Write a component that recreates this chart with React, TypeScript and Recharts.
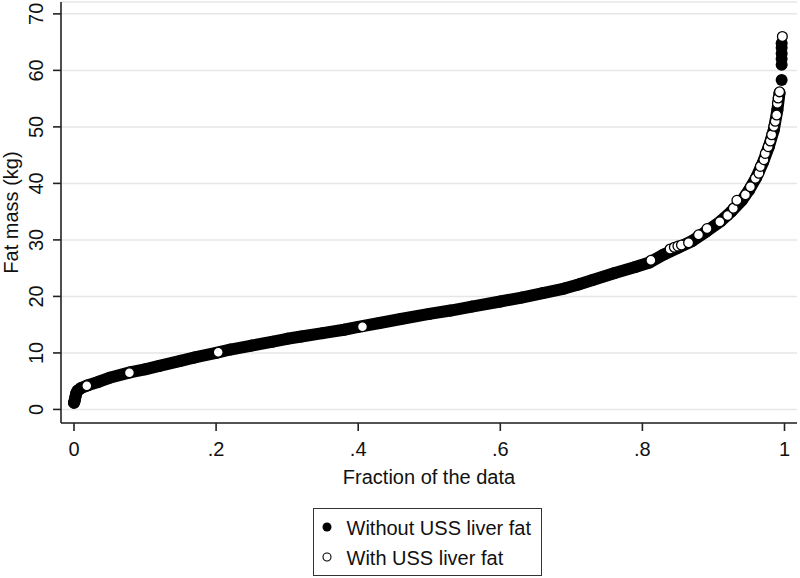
import { CartesianGrid, Scatter, ScatterChart, XAxis, YAxis } from "recharts"

// quantile curve, without USS liver fat (dense part, drawn as a band)
const fracWithout = [
  0.0, 0.001, 0.002, 0.003, 0.005, 0.01, 0.02, 0.035, 0.05, 0.08, 0.1, 0.12,
  0.15, 0.17, 0.2, 0.22, 0.25, 0.28, 0.3, 0.32, 0.35, 0.38, 0.4, 0.43, 0.46,
  0.5, 0.53, 0.56, 0.6, 0.63, 0.66, 0.69, 0.71, 0.73, 0.76, 0.79, 0.81, 0.83,
  0.85, 0.87, 0.89, 0.91, 0.925, 0.94, 0.95, 0.96, 0.97, 0.978, 0.985, 0.99,
  0.993,
]
const fatWithout = [
  1.2, 1.6, 2.2, 2.8, 3.3, 3.8, 4.3, 4.9, 5.6, 6.6, 7.1, 7.7, 8.6, 9.2, 10.0,
  10.6, 11.3, 12.0, 12.5, 12.9, 13.5, 14.1, 14.6, 15.3, 16.0, 16.9, 17.5,
  18.2, 19.1, 19.8, 20.6, 21.4, 22.1, 22.9, 24.1, 25.2, 26.0, 27.4, 28.6,
  29.8, 31.5, 33.3, 35.0, 37.0, 38.8, 41.0, 43.8, 46.5, 49.5, 53.0, 56.0,
]

// the few largest values, drawn as separate dots
const fracWithoutTop = [0.996, 0.996, 0.996, 0.996, 0.996, 0.996]
const fatWithoutTop = [58.3, 61.0, 62.0, 63.0, 64.0, 64.8]

// with USS liver fat
const fracWith = [
  0.018, 0.078, 0.203, 0.406, 0.812, 0.839, 0.845, 0.85, 0.855, 0.865, 0.879,
  0.891, 0.909, 0.92, 0.928, 0.933, 0.945, 0.952, 0.959, 0.964, 0.966, 0.971,
  0.973, 0.977, 0.98, 0.982, 0.985, 0.987, 0.989, 0.99, 0.991, 0.993, 0.997,
]
const fatWith = [
  4.2, 6.5, 10.1, 14.65, 26.4, 28.4, 28.7, 28.9, 29.1, 29.5, 30.9, 32.0, 33.2,
  34.3, 35.6, 37.0, 38.0, 39.4, 40.9, 41.8, 43.0, 44.2, 45.3, 46.5, 47.5, 48.6,
  50.1, 51.0, 52.1, 54.2, 55.1, 56.2, 66.0,
]

const xTicks = [0, 0.2, 0.4, 0.6, 0.8, 1]
const yTicks = [0, 10, 20, 30, 40, 50, 60, 70]

const toPoints = (xs: number[], ys: number[]) =>
  xs.map((x, i) => ({ x, y: ys[i] }))

const FONT = '"Liberation Sans", Arial, sans-serif'
const AXIS = "#222"

const FilledDot = (props: any) => (
  <circle cx={props.cx} cy={props.cy} r={6} fill="#000" />
)

const OpenDot = (props: any) => (
  <circle cx={props.cx} cy={props.cy} r={4.9} fill="#fff" stroke="#000" strokeWidth={1.3} />
)

const YTick = ({ x, y, payload }: any) => (
  <text
    transform={`translate(${x},${y}) rotate(-90)`}
    textAnchor="middle"
    fontSize={20}
    fill="#111"
  >
    {payload.value}
  </text>
)

const YLabel = ({ viewBox }: any) => (
  <text
    transform={`translate(18,${viewBox.y + viewBox.height / 2}) rotate(-90)`}
    textAnchor="middle"
    fontSize={20}
    fill="#111"
  >
    Fat mass (kg)
  </text>
)

const fmtX = (v: number) => (v === 0 ? "0" : v === 1 ? "1" : String(v).replace("0.", "."))

export default function App() {
  return (
    <div
      style={{
        position: "absolute",
        left: 0,
        top: 0,
        width: 800,
        height: 578,
        background: "#fff",
        fontFamily: FONT,
      }}
    >
      <ScatterChart width={800} height={500} margin={{ top: 2, right: 3, bottom: 15, left: 0 }}>
        <CartesianGrid horizontal vertical={false} stroke="#e6e6e6" strokeWidth={1.5} />
        <XAxis
          type="number"
          dataKey="x"
          domain={[-0.0183, 1.0176]}
          ticks={xTicks}
          allowDataOverflow
          tickFormatter={fmtX}
          height={62}
          tickSize={8}
          tickMargin={11}
          tick={{ fontSize: 20, fill: "#111" }}
          axisLine={{ stroke: AXIS, strokeWidth: 1.6 }}
          tickLine={{ stroke: AXIS, strokeWidth: 1.6 }}
          label={{
            value: "Fraction of the data",
            position: "insideBottom",
            offset: 1,
            fontSize: 20,
            fill: "#111",
          }}
        />
        <YAxis
          type="number"
          dataKey="y"
          domain={[-2.4, 72.1]}
          ticks={yTicks}
          allowDataOverflow
          width={61}
          tickSize={8}
          tickMargin={10}
          tick={<YTick />}
          axisLine={{ stroke: AXIS, strokeWidth: 1.6 }}
          tickLine={{ stroke: AXIS, strokeWidth: 1.6 }}
          label={{ content: <YLabel /> }}
        />
        <Scatter
          name="Without USS liver fat"
          data={toPoints(fracWithout, fatWithout)}
          fill="#000"
          line={{ stroke: "#000", strokeWidth: 12, strokeLinejoin: "round", strokeLinecap: "round" }}
          shape={<FilledDot />}
          isAnimationActive={false}
        />
        <Scatter
          name="Without USS liver fat (top)"
          data={toPoints(fracWithoutTop, fatWithoutTop)}
          fill="#000"
          shape={<FilledDot />}
          isAnimationActive={false}
        />
        <Scatter
          name="With USS liver fat"
          data={toPoints(fracWith, fatWith)}
          fill="#fff"
          shape={<OpenDot />}
          isAnimationActive={false}
        />
      </ScatterChart>
      <svg
        width={229}
        height={68}
        style={{ position: "absolute", left: 313, top: 508 }}
      >
        <rect x={0.5} y={0.5} width={228} height={67} fill="#fff" stroke="#333" strokeWidth={1} />
        <circle cx={14} cy={19} r={4.5} fill="#000" />
        <text x={33.5} y={27} fontSize={20} fill="#111">
          Without USS liver fat
        </text>
        <circle cx={14} cy={49} r={4} fill="#fff" stroke="#000" strokeWidth={1.1} />
        <text x={33.5} y={57} fontSize={20} fill="#111">
          With USS liver fat
        </text>
      </svg>
    </div>
  )
}
